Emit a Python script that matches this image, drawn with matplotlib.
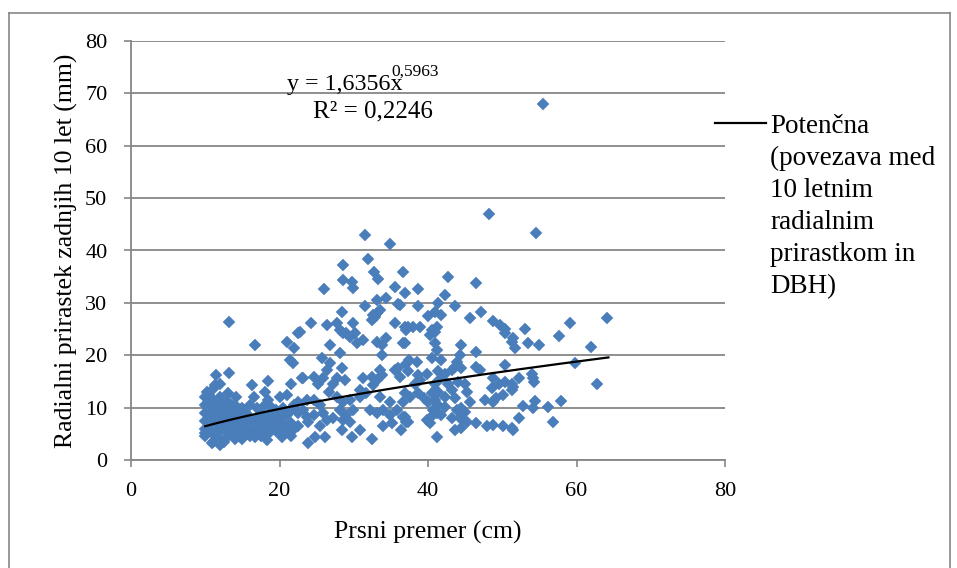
import matplotlib
matplotlib.use("Agg")
import matplotlib.pyplot as plt
from matplotlib.lines import Line2D
import numpy as np

plt.rcParams['font.family'] = ['Liberation Serif', 'DejaVu Serif']

# Upper / sparse points (DBH cm, 10-year radial increment mm)
upper_x = [55.5, 48.2, 54.5, 31.5, 34.9, 28.6, 31.9, 32.7, 33.3, 36.7, 42.7, 46.5, 28.6, 29.7, 29.9,
           26.0, 35.6, 36.9, 38.6, 42.3, 33.1, 34.4, 35.9, 31.5, 32.6, 32.4, 28.4, 33.1, 33.5, 38.6,
           41.4, 43.7, 40.0, 40.9, 41.8, 45.7, 47.1, 48.8, 49.7, 50.4, 37.3, 38.0, 38.9, 40.5, 41.2,
           24.2, 26.4, 27.7, 28.1, 29.9, 35.6, 36.9, 13.2, 22.5, 16.7, 21.0, 22.0, 21.4, 21.8,
           64.1, 59.1, 53.0, 51.5, 51.7, 53.5, 54.9, 57.7, 62.0, 59.8, 52.2, 51.5, 54.0, 54.2, 54.3,
           62.7, 52.8, 54.4, 54.2, 56.1, 57.9, 52.2, 51.4, 56.9,
           29.5, 30.4, 31.3, 28.6, 32.9, 36.2, 22.8, 29.0, 30.2, 37.1]
upper_y = [67.9, 46.9, 43.3, 42.9, 41.2, 37.2, 38.4, 35.8, 34.5, 35.9, 35.0, 33.8, 34.4, 33.9, 32.8,
           32.6, 33.1, 31.8, 32.6, 31.5, 30.5, 31.0, 29.8, 29.4, 27.7, 26.7, 28.3, 28.0, 28.6, 29.4,
           29.9, 29.4, 27.5, 28.3, 27.7, 27.2, 28.3, 26.6, 25.8, 25.1, 25.4, 25.3, 25.4, 24.8, 25.4,
           26.1, 25.8, 26.1, 24.8, 26.1, 26.1, 25.3, 26.4, 24.2, 21.9, 22.6, 21.4, 19.1, 18.5,
           27.2, 26.2, 25.0, 23.2, 21.3, 22.3, 21.9, 23.7, 21.6, 18.5, 15.6, 13.9, 16.5, 15.6, 14.9,
           14.5, 10.4, 11.3, 9.9, 10.1, 11.3, 8.1, 5.7, 7.3,
           23.5, 22.3, 22.9, 24.2, 27.3, 29.6, 24.5, 24.2, 24.2, 24.8]

# Middle band (DBH 23-37 cm)
mid_x = [11.5, 13.2, 11.3, 10.2, 16.3, 18.4, 21.6, 23.0, 13.0, 14.2, 18.0, 10.9, 12.0, 16.7, 18.3, 20.4, 10.0,
         26.8, 28.1, 33.8, 33.1, 33.8, 34.4, 36.7, 25.7, 26.8, 26.4, 28.4, 23.2, 24.6, 25.2, 25.9, 27.2,
         27.7, 28.8, 31.3, 32.4, 33.5, 33.8, 35.6, 36.2, 33.1, 32.6, 30.8, 26.6, 27.7, 28.6, 29.5, 24.6,
         25.5, 23.7, 30.8, 31.7, 33.5, 34.9, 36.7, 28.1, 29.0, 29.9, 32.2, 33.1, 34.0, 34.9, 35.8, 36.7,
         23.2, 23.7, 24.6, 25.9, 26.4, 27.2, 28.6, 29.5, 23.9, 25.5, 28.4, 29.7, 30.8, 24.8, 26.1, 23.9,
         32.4, 36.4, 34.0, 35.1, 37.1]
mid_y = [16.2, 16.7, 14.3, 13.0, 14.3, 15.1, 14.6, 15.6, 12.8, 12.1, 13.0, 3.2, 2.9, 4.4, 3.8, 4.4, 5.1,
         21.9, 20.4, 20.0, 22.6, 21.9, 23.2, 22.3, 19.4, 18.5, 17.2, 17.5, 15.6, 15.9, 14.6, 15.6, 14.6,
         15.6, 15.3, 15.6, 15.9, 17.2, 16.2, 17.2, 15.9, 15.3, 14.3, 13.4, 13.0, 12.1, 11.1, 11.5, 11.5,
         10.5, 11.5, 12.1, 12.7, 12.1, 11.1, 11.1, 9.5, 8.6, 9.5, 9.5, 8.9, 9.5, 8.6, 9.5, 8.3,
         9.5, 8.3, 8.6, 8.9, 7.6, 8.0, 7.6, 7.3, 7.3, 6.4, 5.7, 4.4, 5.7, 4.4, 4.4, 3.2,
         4.1, 5.7, 6.4, 7.0, 7.3]

# Right band (DBH 36-52 cm)
right_x = [40.3, 40.9, 40.9, 41.2, 36.9, 44.5, 44.3, 46.5, 50.4, 51.3, 38.5, 40.5, 41.8, 43.9, 43.6,
           44.5, 46.5, 47.0, 50.4, 37.3, 38.7, 39.8, 41.4, 42.3, 43.2, 38.2, 38.9, 40.9, 41.8, 42.7,
           44.1, 45.0, 48.8, 49.5, 50.4, 51.3, 48.6, 50.1, 51.3, 36.9, 37.6, 38.7, 39.4, 40.5, 41.4,
           43.2, 42.3, 43.6, 45.2, 40.0, 40.9, 41.4, 42.3, 40.7, 45.7, 47.7, 48.8, 49.2, 43.9, 44.5,
           45.0, 36.9, 37.3, 40.3, 41.2, 41.8, 43.2, 44.3, 45.2, 46.5, 47.9, 48.8, 50.1, 51.3, 43.6,
           44.5, 41.2, 39.8, 40.3, 37.0, 37.5, 36.0]
right_y = [23.9, 24.5, 22.3, 21.0, 22.3, 21.9, 20.0, 20.7, 24.2, 22.6, 18.8, 19.4, 19.1, 18.8, 17.8,
           17.5, 17.8, 17.2, 18.1, 16.9, 16.2, 16.5, 16.9, 16.5, 17.2, 14.6, 15.3, 14.6, 15.6, 14.6,
           14.9, 14.6, 15.6, 14.6, 14.9, 14.6, 13.7, 12.4, 13.4, 12.7, 12.1, 12.7, 11.8, 12.7, 13.0,
           13.4, 12.1, 11.8, 13.0, 11.1, 11.5, 10.5, 10.2, 9.5, 11.1, 11.5, 11.1, 11.8, 9.5, 9.9,
           9.2, 8.3, 7.3, 8.0, 8.9, 8.6, 8.0, 8.0, 7.3, 7.0, 6.4, 6.7, 6.4, 6.1, 5.7,
           6.1, 4.4, 7.6, 7.0, 18.3, 19.0, 17.6]

# Dense cluster of small trees (DBH 10-23 cm)
small_x = [10.0, 10.0, 10.0, 10.0, 10.0, 10.0,
           10.5, 10.5, 10.5, 10.5,
           11.0, 11.0, 11.0, 11.0, 11.0, 11.0, 11.0,
           11.5, 11.5, 11.5, 11.5, 11.5,
           12.0, 12.0, 12.0, 12.0, 12.0, 12.0, 12.0,
           12.5, 12.5, 12.5, 12.5, 12.5,
           13.0, 13.0, 13.0, 13.0, 13.0,
           13.5, 13.5, 13.5, 13.5,
           14.0, 14.0, 14.0, 14.0, 14.0,
           14.5, 14.5, 14.5,
           15.0, 15.0, 15.0, 15.0,
           15.5, 15.5, 15.5,
           16.0, 16.0, 16.0, 16.0,
           16.5, 16.5, 16.5,
           17.0, 17.0, 17.0,
           17.5, 17.5, 17.5,
           18.0, 18.0, 18.0,
           18.5, 18.5, 18.5,
           19.0, 19.0, 19.0,
           19.5, 19.5, 19.5,
           20.0, 20.0, 20.0,
           20.5, 20.5, 20.5,
           21.0, 21.0, 21.0,
           21.5, 21.5, 21.5,
           22.0, 22.0,
           22.5, 22.5, 22.5]
small_y = [4.5, 6.0, 7.5, 9.0, 10.5, 12.0,
           5.5, 8.0, 11.0, 12.5,
           3.5, 5.0, 6.5, 8.0, 9.5, 11.5, 13.5,
           4.5, 6.0, 7.5, 9.5, 11.0,
           4.0, 5.5, 7.0, 8.5, 10.0, 12.0, 14.5,
           3.5, 6.0, 8.0, 9.5, 11.0,
           4.5, 6.5, 8.0, 9.5, 11.0,
           5.0, 6.5, 8.5, 10.5,
           4.0, 5.5, 7.0, 9.0, 10.5,
           4.5, 6.5, 8.5,
           4.0, 5.5, 7.5, 10.0,
           5.0, 6.5, 9.0,
           4.5, 6.0, 8.0, 10.5,
           5.5, 7.5, 12.0,
           5.0, 8.0, 10.0,
           4.5, 6.5, 9.0,
           6.0, 7.5, 10.5,
           5.0, 8.5, 11.5,
           6.5, 8.0, 10.0,
           5.5, 7.0, 9.5,
           6.0, 8.5, 12.0,
           5.0, 7.0, 10.0,
           6.0, 8.5, 12.5,
           4.5, 7.0, 9.5,
           6.0, 10.5,
           6.5, 9.0, 11.0]

# Power trend line y = a * x^b
trend_a = 1.6356
trend_b = 0.5963
trend_xmin = 10.0
trend_xmax = 64.3

x_ticks = [0, 20, 40, 60, 80]
y_ticks = [0, 10, 20, 30, 40, 50, 60, 70, 80]

W, H = 957, 568
fig = plt.figure(figsize=(W / 100, H / 100), dpi=100)
ax = fig.add_axes([131 / W, 1 - 460 / H, (725 - 131) / W, (460 - 41) / H])

blue = '#4A7EBB'
all_x = upper_x + mid_x + right_x + small_x
all_y = upper_y + mid_y + right_y + small_y
ax.plot(all_x, all_y, linestyle='none', marker='D', markersize=6.5,
        markerfacecolor=blue, markeredgecolor=blue, markeredgewidth=0.3, zorder=3)

tx = np.linspace(trend_xmin, trend_xmax, 200)
ax.plot(tx, trend_a * tx ** trend_b, color='black', linewidth=1.6, zorder=4)

ax.set_xlim(0, 80)
ax.set_ylim(0, 80)
ax.set_xticks(x_ticks)
ax.set_yticks(y_ticks)
ax.tick_params(axis='both', labelsize=16, colors='#868686', length=5, width=1.2,
               direction='out', labelcolor='black')
ax.tick_params(axis='x', pad=11)
ax.tick_params(axis='y', pad=12)
ax.grid(axis='y', color='#868686', linewidth=1.3)
ax.set_axisbelow(True)
for s in ['top', 'right']:
    ax.spines[s].set_visible(False)
for s in ['left', 'bottom']:
    ax.spines[s].set_color('#868686')
    ax.spines[s].set_linewidth(1.3)

ax.set_xlabel('Prsni premer (cm)', fontsize=18.5, labelpad=14)
ax.set_ylabel('Radialni prirastek zadnjih 10 let (mm)', fontsize=18.5, labelpad=5)

# Trend-line equation
fig.text(287 / W, 1 - 90 / H, 'y = 1,6356x', fontsize=17.3, ha='left', va='baseline')
fig.text(391 / W, 1 - 76 / H, '0,5963', fontsize=12.5, ha='left', va='baseline')
fig.text(373 / W, 1 - 111 / H, 'R² = 0,2246', fontsize=18, ha='center', va='center')

# Legend (drawn in figure coordinates)
fig.add_artist(Line2D([715 / W, 766 / W], [1 - 123 / H, 1 - 123 / H], color='black',
                      linewidth=1.6, transform=fig.transFigure))
fig.text(770 / W, 1 - 114 / H, 'Potenčna\n(povezava med\n10 letnim\nradialnim\nprirastkom in\nDBH)',
         fontsize=19.5, ha='left', va='top', linespacing=1.37)

# Chart-area border
border = '#868686'
fig.add_artist(Line2D([9 / W, 9 / W], [0, 1 - 13 / H], color=border, linewidth=1.2))
fig.add_artist(Line2D([9 / W, 950 / W], [1 - 13 / H, 1 - 13 / H], color=border, linewidth=1.2))
fig.add_artist(Line2D([950 / W, 950 / W], [0, 1 - 13 / H], color=border, linewidth=1.2))

fig.savefig('out.png', dpi=100)
